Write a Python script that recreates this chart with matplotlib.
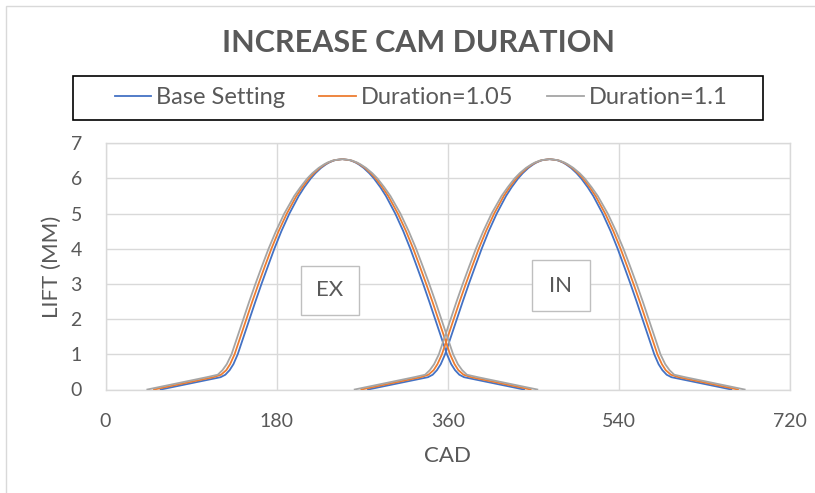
import matplotlib
matplotlib.use('Agg')
import matplotlib.pyplot as plt
from matplotlib.patches import Rectangle
from matplotlib.lines import Line2D

plt.rcParams['font.family'] = ['Lato', 'DejaVu Sans']

# ---------------- data ----------------
series_names = ['Base Setting', 'Duration=1.05', 'Duration=1.1']
series_colors = ['#4472C4', '#ED7D31', '#A5A5A5']

# valve lift levels (mm), from opening ramp to peak
lift_mm = [0, 0.35, 0.42, 0.55, 0.72, 1.0, 1.5, 2.0, 2.5, 3.0, 3.5, 4.0,
           4.5, 5.0, 5.5, 5.75, 6.0, 6.15, 6.3, 6.4, 6.45, 6.5, 6.52, 6.55]

# half width of the lift event (deg CAD from the peak) at each lift level
half_width_base = [191, 128, 123, 118.5, 114.5, 110, 103.8, 97.6, 91.4, 85, 78.3, 71.5,
                   64.1, 55.7, 45.9, 40.0, 33.2, 28.3, 22.4, 17.3, 14.2, 10.0, 7.8, 0]
half_width_105 = [198, 135.5, 127.5, 122, 118, 113.3, 107.1, 100.9, 94.7, 88.2, 81.5, 74.6,
                  67, 58.4, 48.3, 42.1, 35.1, 29.9, 23.7, 18.3, 15.0, 10.6, 8.2, 0]
half_width_110 = [205, 142.5, 131, 126, 121.5, 116.5, 110.3, 104.1, 97.9, 91.4, 84.6, 77.6,
                  69.8, 61.1, 50.6, 44.1, 36.9, 31.5, 24.9, 19.2, 15.8, 11.1, 8.6, 0]

ex_peak_cad = 249   # exhaust peak-lift position
in_peak_cad = 467   # intake peak-lift position

x_ticks = [0, 180, 360, 540, 720]
y_ticks = [0, 1, 2, 3, 4, 5, 6, 7]


def event(center, hw, lift):
    xs = [center - h for h in hw] + [center + h for h in reversed(hw[:-1])]
    ys = list(lift) + list(reversed(lift[:-1]))
    return xs, ys


# ---------------- figure ----------------
W, H = 815, 493
fig = plt.figure(figsize=(W / 100, H / 100), dpi=100)
L, R, T, B = 105.5, 790.3, 143.3, 389.5
ax = fig.add_axes([L / W, 1 - B / H, (R - L) / W, (B - T) / H])

grid_c = '#D9D9D9'
text_c = '#595959'

for name, col, hw in zip(series_names, series_colors,
                         [half_width_base, half_width_105, half_width_110]):
    for c in (ex_peak_cad, in_peak_cad):
        xs, ys = event(c, hw, lift_mm)
        ax.plot(xs, ys, color=col, lw=1.3, solid_joinstyle='round', zorder=3)

ax.set_xlim(0, 720)
ax.set_ylim(0, 7)
ax.set_xticks(x_ticks)
ax.set_yticks(y_ticks)
ax.grid(True, color=grid_c, lw=1.0)
ax.set_axisbelow(True)
for s in ax.spines.values():
    s.set_color(grid_c)
    s.set_linewidth(1.0)
ax.tick_params(length=0, labelsize=14, labelcolor=text_c)
ax.tick_params(axis='x', pad=17)
ax.tick_params(axis='y', pad=17)

# axis titles
fig.text(447.5 / W, 1 - 456.5 / H, 'CAD', ha='center', va='center',
         fontsize=16, color=text_c)
fig.text(52 / W, 1 - 266.4 / H, 'LIFT (MM)', ha='center', va='center',
         rotation=90, fontsize=16, color=text_c)

# annotation boxes
for (x0, x1, y0, y1, txt) in [(205.2, 266.5, 2.12, 3.52, 'EX'),
                              (448.0, 509.0, 2.23, 3.68, 'IN')]:
    ax.add_patch(Rectangle((x0, y0), x1 - x0, y1 - y0, fill=True, fc='white',
                           ec='#BFBFBF', lw=1.0, zorder=4))
    ax.text((x0 + x1) / 2, (y0 + y1) / 2, txt, ha='center', va='center',
            fontsize=16, color=text_c, zorder=5)

# title
fig.text(418.5 / W, 1 - 42.5 / H, 'INCREASE CAM DURATION', ha='center', va='center',
         fontsize=22, fontweight='bold', color=text_c)

# legend frame + entries
lx0, lx1, ly0, ly1 = 72.8, 763, 76, 120
fig.patches.append(Rectangle((lx0 / W, 1 - ly1 / H), (lx1 - lx0) / W, (ly1 - ly0) / H,
                             transform=fig.transFigure, fill=False, ec='black', lw=1.2))
handles = [Line2D([], [], color=c, lw=1.3) for c in series_colors]
leg = fig.legend(handles, series_names, loc='center', ncol=3,
                 bbox_to_anchor=(421 / W, 1 - 98 / H),
                 frameon=False, fontsize=17, handlelength=1.55, handletextpad=0.2,
                 columnspacing=1.45, borderpad=0, borderaxespad=0, labelcolor=text_c)

# outer chart border (light)
fig.patches.append(Rectangle((5.5 / W, -0.05), 1.2, 1 - 5.5 / H + 0.05,
                             transform=fig.transFigure, fill=False,
                             ec='#D9D9D9', lw=1.0))

fig.savefig('out.png', dpi=100)
